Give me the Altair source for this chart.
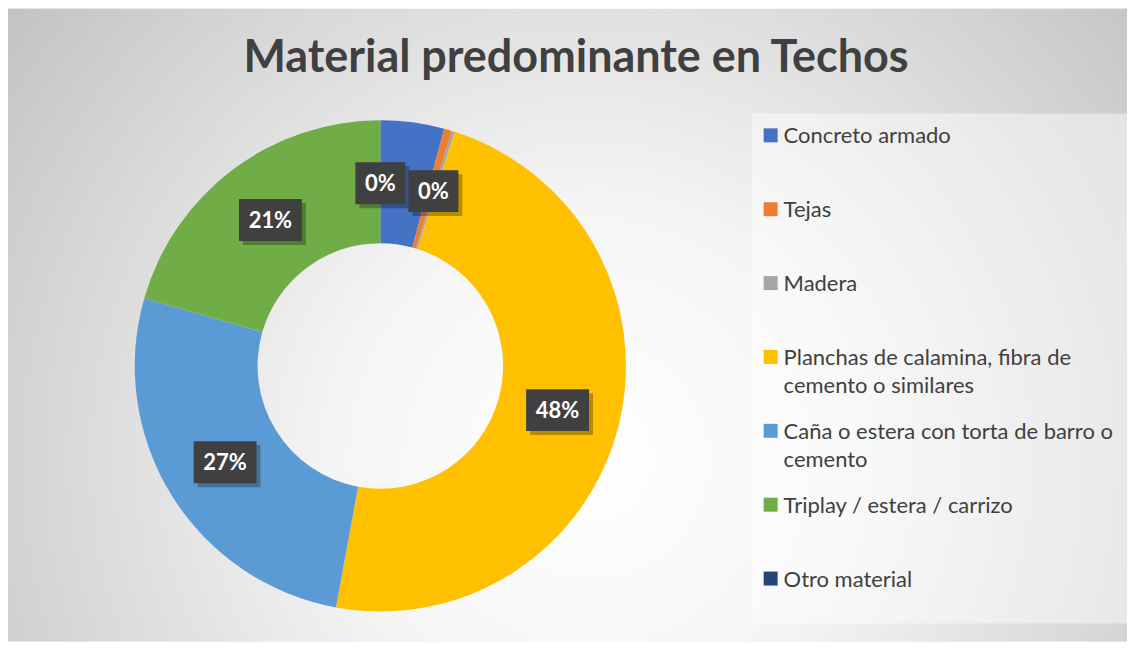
import altair as alt
import pandas as pd

categories = [
    "Concreto armado",
    "Tejas",
    "Madera",
    "Planchas de calamina, fibra de cemento o similares",
    "Caña o estera con torta de barro o cemento",
    "Triplay / estera / carrizo",
    "Otro material",
]
legend_labels = [
    "Concreto armado",
    "Tejas",
    "Madera",
    "Planchas de calamina, fibra de\ncemento o similares",
    "Caña o estera con torta de barro o\ncemento",
    "Triplay / estera / carrizo",
    "Otro material",
]
values = [4.2, 0.5, 0.2, 48.1, 26.6, 20.6, 0.0]
data_labels = ["0%", "0%", "", "48%", "27%", "21%", ""]
colors = ["#4472C4", "#ED7D31", "#A5A5A5", "#FFC000", "#5B9BD5", "#70AD47", "#264478"]
title_text = "Material predominante en Techos"

W, H = 1121, 634
CX, CY = 373, 358
R_OUT, R_IN, R_LAB = 246, 123, 183

df = pd.DataFrame({
    "category": categories,
    "legend": legend_labels,
    "value": values,
    "label": data_labels,
    "order": list(range(len(categories))),
})

base = alt.Chart(df)

bg = alt.Chart(pd.DataFrame({"a": [0]})).mark_rect(
    color=alt.RadialGradient(
        gradient="radial",
        x1=0.52, y1=0.62, r1=0,
        x2=0.52, y2=0.62, r2=0.75,
        stops=[
            alt.GradientStop(offset=0, color="#ffffff"),
            alt.GradientStop(offset=0.3, color="#f5f5f5"),
            alt.GradientStop(offset=1, color="#b8b8b8"),
        ],
    )
).encode(x=alt.value(0), x2=alt.value(W), y=alt.value(0), y2=alt.value(H))

legend_box = alt.Chart(pd.DataFrame({"a": [0]})).mark_rect(
    color="white", opacity=0.45
).encode(x=alt.value(745), x2=alt.value(1123), y=alt.value(105), y2=alt.value(616))

title = alt.Chart(pd.DataFrame({"t": [title_text]})).mark_text(
    font="Lato", fontWeight="bold", fontSize=45, color="#404040",
    align="center", baseline="alphabetic"
).encode(x=alt.value(569), y=alt.value(64), text="t:N")

donut = base.mark_arc(innerRadius=R_IN, outerRadius=R_OUT).encode(
    theta=alt.Theta("value:Q", stack=True),
    color=alt.Color("category:N", scale=alt.Scale(domain=categories, range=colors), legend=None),
    order=alt.Order("order:Q"),
    x=alt.value(CX),
    y=alt.value(CY),
)

# label anchor: mid-angle for normal slices; tiny slices are nudged to their
# edges (as Excel's best-fit does) so that their labels do not collide
lab = base.transform_joinaggregate(
    total="sum(value)"
).transform_window(
    cum="sum(value)", sort=[alt.SortField("order")], frame=[None, 0]
).transform_calculate(
    mid="(datum.value < 1 ? datum.cum : datum.value < 5 ? datum.cum - datum.value : "
        "datum.cum - datum.value / 2) / datum.total * 2 * PI",
).transform_calculate(
    lx=f"{CX} + {R_LAB} * sin(datum.mid)",
    ly=f"{CY} - {R_LAB} * cos(datum.mid)",
    hw="(length(datum.label) * 13 + 24) / 2",
).transform_calculate(
    bx1="datum.lx - datum.hw", bx2="datum.lx + datum.hw",
    by1="datum.ly - 21", by2="datum.ly + 21",
    sx1="datum.lx - datum.hw + 4", sx2="datum.lx + datum.hw + 4",
    sy1="datum.ly - 17", sy2="datum.ly + 25",
).transform_filter("datum.label != ''")

shadow = lab.mark_rect(color="black", opacity=0.28).encode(
    x=alt.X("sx1:Q", scale=None), x2="sx2:Q",
    y=alt.Y("sy1:Q", scale=None), y2="sy2:Q",
)
boxes = lab.mark_rect(color="#404040").encode(
    x=alt.X("bx1:Q", scale=None), x2="bx2:Q",
    y=alt.Y("by1:Q", scale=None), y2="by2:Q",
)
texts = lab.mark_text(
    font="Lato", fontWeight="bold", fontSize=22, color="white",
    align="center", baseline="middle", dy=1
).encode(
    x=alt.X("lx:Q", scale=None), y=alt.Y("ly:Q", scale=None), text="label:N"
)

yleg = alt.Y("category:N", sort=categories,
             scale=alt.Scale(type="point", domain=categories, range=[127, 571], padding=0),
             axis=None)
swatch = base.mark_point(shape="square", filled=True, size=196, opacity=1).encode(
    x=alt.value(764), y=yleg,
    color=alt.Color("category:N", scale=alt.Scale(domain=categories, range=colors), legend=None),
)
legtext = base.mark_text(
    font="Lato", fontSize=22, color="#404040", align="left", baseline="alphabetic",
    dy=8, lineBreak="\n", lineHeight=28
).encode(x=alt.value(777), y=yleg, text="legend:N")

chart = alt.layer(
    bg, legend_box, title, donut, shadow, boxes, texts, swatch, legtext
).resolve_scale(
    x="independent", y="independent", color="independent"
).properties(
    width=W, height=H, padding=0
).configure_view(stroke=None)

chart.save("out.html", embed_options={"renderer": "svg", "actions": False})
